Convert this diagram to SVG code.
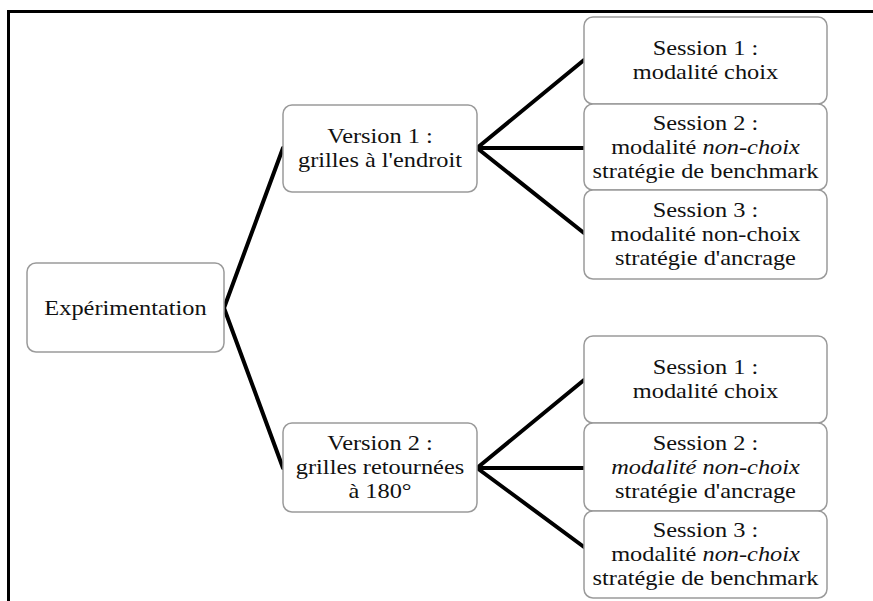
<svg xmlns="http://www.w3.org/2000/svg" width="873" height="601" viewBox="0 0 873 601">
<style>
.box{fill:#ffffff;stroke:#9a9a9a;stroke-width:1.5}
.t{font-family:"Liberation Serif","Times New Roman",serif;font-size:21px;fill:#111;text-anchor:middle}
.i{font-style:italic}
.c{stroke:#000;stroke-width:4;fill:none;stroke-linecap:round;stroke-linejoin:round}
.frame{stroke:#000;stroke-width:3;fill:none}
</style>
<rect width="873" height="601" fill="#ffffff"/>
<path class="frame" d="M8.5 601 V11.5 H873"/>
<g id="connectors">
<path class="c" d="M283 148 L224 308 L283 468"/>
<path class="c" d="M584 60 L477 148 L584 233"/>
<path class="c" d="M477 148 L584 148"/>
<path class="c" d="M584 380 L477 468 L584 547"/>
<path class="c" d="M477 468 L584 468"/>
</g>
<g id="experimentation">
<rect class="box" x="27" y="263" width="197" height="89" rx="9"/>
<g transform="translate(125.5,0) scale(1.16,1)"><text class="t" x="0" y="315">Expérimentation</text></g>
</g>
<g id="version1">
<rect class="box" x="283" y="105" width="194" height="87" rx="9"/>
<g transform="translate(380,0) scale(1.16,1)">
<text class="t" x="0" y="143.5">Version 1 :</text>
<text class="t" x="0" y="167.5">grilles à l'endroit</text>
</g>
</g>
<g id="version2">
<rect class="box" x="283" y="423" width="194" height="89" rx="9"/>
<g transform="translate(380,0) scale(1.16,1)">
<text class="t" x="0" y="450.5">Version 2 :</text>
<text class="t" x="0" y="474.5">grilles retournées</text>
<text class="t" x="0" y="498.5">à 180°</text>
</g>
</g>
<g id="v1s1">
<rect class="box" x="584" y="17" width="243" height="87" rx="9"/>
<g transform="translate(705.5,0) scale(1.16,1)">
<text class="t" x="0" y="55.5">Session 1 :</text>
<text class="t" x="0" y="79.5">modalité choix</text>
</g>
</g>
<g id="v1s2">
<rect class="box" x="584" y="104" width="243" height="86" rx="9"/>
<g transform="translate(705.5,0) scale(1.16,1)">
<text class="t" x="0" y="130">Session 2 :</text>
<text class="t" x="0" y="154">modalité <tspan class="i">non-choix</tspan></text>
<text class="t" x="0" y="178">stratégie de benchmark</text>
</g>
</g>
<g id="v1s3">
<rect class="box" x="584" y="190" width="243" height="89" rx="9"/>
<g transform="translate(705.5,0) scale(1.16,1)">
<text class="t" x="0" y="217.5">Session 3 :</text>
<text class="t" x="0" y="241.5">modalité non-choix</text>
<text class="t" x="0" y="265.5">stratégie d'ancrage</text>
</g>
</g>
<g id="v2s1">
<rect class="box" x="584" y="336" width="243" height="87" rx="9"/>
<g transform="translate(705.5,0) scale(1.16,1)">
<text class="t" x="0" y="374.5">Session 1 :</text>
<text class="t" x="0" y="398.5">modalité choix</text>
</g>
</g>
<g id="v2s2">
<rect class="box" x="584" y="423" width="243" height="88" rx="9"/>
<g transform="translate(705.5,0) scale(1.16,1)">
<text class="t" x="0" y="450">Session 2 :</text>
<text class="t i" x="0" y="474">modalité non-choix</text>
<text class="t" x="0" y="498">stratégie d'ancrage</text>
</g>
</g>
<g id="v2s3">
<rect class="box" x="584" y="511" width="243" height="87" rx="9"/>
<g transform="translate(705.5,0) scale(1.16,1)">
<text class="t" x="0" y="537.5">Session 3 :</text>
<text class="t" x="0" y="561.5">modalité <tspan class="i">non-choix</tspan></text>
<text class="t" x="0" y="585.5">stratégie de benchmark</text>
</g>
</g>
</svg>
